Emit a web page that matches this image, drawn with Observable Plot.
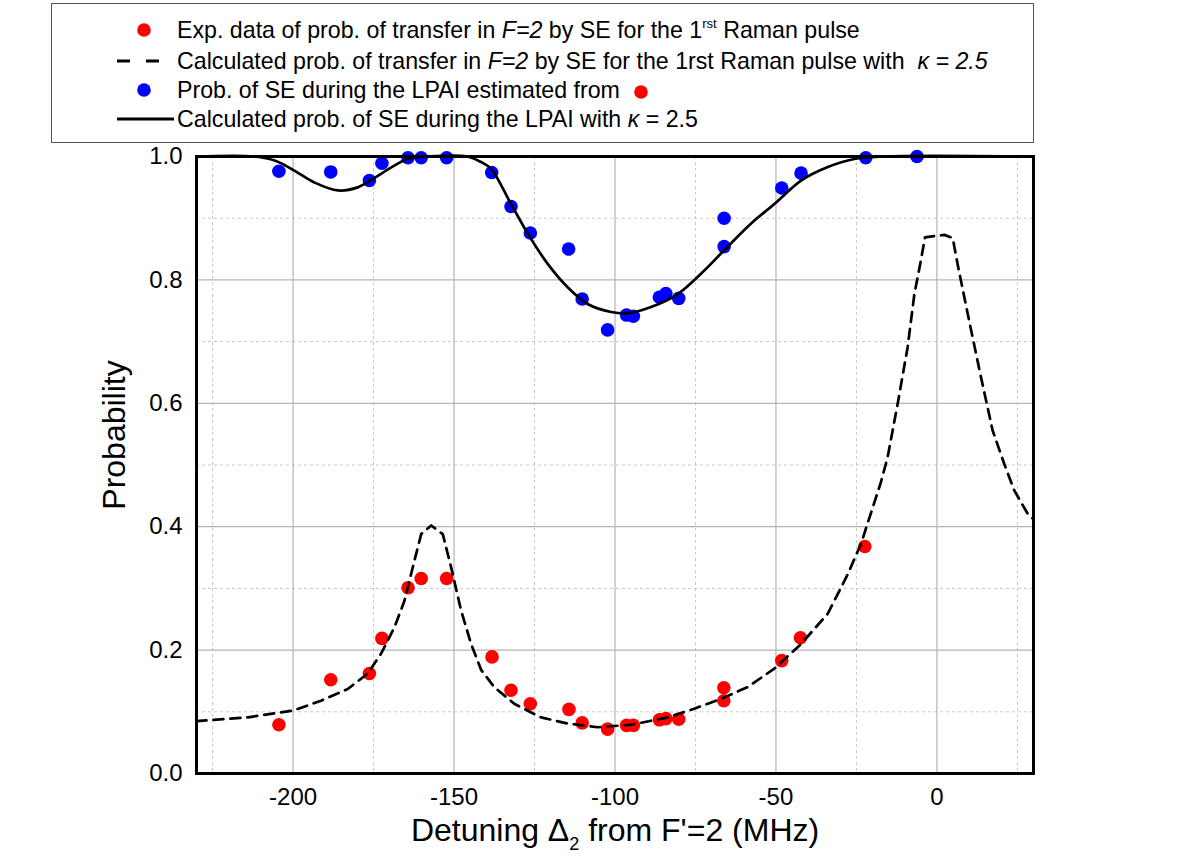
<!DOCTYPE html>
<html>
<head>
<meta charset="utf-8">
<script src="https://cdn.jsdelivr.net/npm/d3@7"></script>
<script src="https://cdn.jsdelivr.net/npm/@observablehq/plot@0.6"></script>
<style>
  html, body { margin: 0; padding: 0; background: #fff; }
  body { width: 1204px; height: 861px; font-family: "Liberation Sans", Arial, sans-serif; color: #000; }
  #legend { position: relative; margin-left: 51px; margin-top: 3px; width: 983px; height: 140px; box-sizing: border-box; border: 1.5px solid #555; }
  .row { position: absolute; left: 0; height: 30px; line-height: 30px; font-size: 23.2px; white-space: nowrap; }
  .row .sym { position: absolute; top: 0; }
  .row .txt { position: absolute; left: 125px; top: 0; }
  sup { font-size: 13px; vertical-align: 0; position: relative; top: -10px; }
  #chart { margin-top: -6px; position: relative; }
  #chart svg { background: transparent !important; }
</style>
</head>
<body>
<div id="legend">
  <div class="row" style="top:11px"><svg class="sym" width="120" height="30"><circle cx="92" cy="15" r="6.8" fill="#ff0000"/></svg><span class="txt">Exp. data of prob. of transfer in <i>F=2</i> by SE for the 1<sup>rst</sup> Raman pulse</span></div>
  <div class="row" style="top:42px"><svg class="sym" width="120" height="30"><line x1="65" x2="78" y1="15" y2="15" stroke="#000" stroke-width="3"/><line x1="94" x2="107" y1="15" y2="15" stroke="#000" stroke-width="3"/></svg><span class="txt">Calculated prob. of transfer in <i>F=2</i> by SE for the 1rst Raman pulse with&nbsp; <i>κ = 2.5</i></span></div>
  <div class="row" style="top:71px"><svg class="sym" width="120" height="30"><circle cx="92" cy="15" r="6.8" fill="#0000ff"/></svg><span class="txt">Prob. of SE during the LPAI estimated from &nbsp;<svg width="16" height="16" style="vertical-align:-2px"><circle cx="8" cy="8" r="6.8" fill="#ff0000"/></svg></span></div>
  <div class="row" style="top:100px"><svg class="sym" width="130" height="30"><line x1="65" x2="122" y1="15" y2="15" stroke="#000" stroke-width="3"/></svg><span class="txt"><i>Calculated</i></span></div>
</div>
<div id="chart"></div>
<script>
// ---- data ----
const expX = [-204.4, -188.3, -176.3, -172.4, -164.3, -160.2, -152.3, -138.2, -132.3, -126.3, -114.3, -110.2, -102.3, -96.4, -94.3, -86.2, -84.2, -80.2, -66.2, -66.2, -48.2, -42.4, -22.4];
const expTransfer = [0.079, 0.152, 0.162, 0.219, 0.301, 0.316, 0.316, 0.189, 0.135, 0.113, 0.104, 0.082, 0.072, 0.078, 0.078, 0.087, 0.089, 0.088, 0.139, 0.118, 0.183, 0.220, 0.368];

const seX = [-204.4, -188.3, -176.3, -172.4, -164.3, -160.2, -152.3, -138.3, -132.3, -126.3, -114.4, -110.2, -102.3, -96.4, -94.3, -86.2, -84.2, -80.2, -66.1, -66.1, -48.2, -42.2, -22.1, -6.2];
const seProb = [0.976, 0.975, 0.961, 0.989, 0.998, 0.998, 0.998, 0.974, 0.919, 0.876, 0.850, 0.769, 0.719, 0.743, 0.741, 0.772, 0.778, 0.770, 0.900, 0.854, 0.949, 0.973, 0.998, 1.0];

const calcTransferX = [-230, -214, -200, -191.3, -183, -176.8, -172.7, -168.5, -165.4, -162.3, -160.2, -157.1, -153.5, -150.9, -147.8, -144.7, -141.6, -137.5, -131.3, -123, -114.7, -105.4, -95, -83.6, -75.4, -67.1, -58.8, -50.5, -42.2, -33.9, -27.7, -23.6, -17.4, -15.3, -12.2, -9.1, -7, -5, -3.7, 2.3, 4.9, 6.4, 10, 13.7, 17.3, 20.9, 24, 28.2, 30];
const calcTransferY = [0.085, 0.091, 0.102, 0.118, 0.137, 0.162, 0.194, 0.237, 0.280, 0.345, 0.388, 0.402, 0.388, 0.334, 0.264, 0.210, 0.168, 0.140, 0.113, 0.091, 0.081, 0.075, 0.079, 0.091, 0.105, 0.121, 0.140, 0.170, 0.210, 0.259, 0.323, 0.372, 0.472, 0.513, 0.599, 0.691, 0.777, 0.831, 0.869, 0.873, 0.868, 0.826, 0.734, 0.642, 0.556, 0.502, 0.459, 0.421, 0.412];

const calcSEX = [-230, -212, -205.5, -199.6, -193.4, -186.1, -179.9, -174.8, -169.6, -164.4, -158, -146, -141.6, -138.5, -132.3, -127.1, -120.9, -114.7, -108.5, -101.2, -96, -88.8, -80.5, -73.3, -66.1, -57.8, -50.5, -42.2, -33.9, -25.7, -17, 30];
const calcSEY = [1, 1, 0.993, 0.977, 0.958, 0.945, 0.950, 0.965, 0.982, 0.996, 1, 1, 0.991, 0.980, 0.923, 0.875, 0.826, 0.788, 0.761, 0.748, 0.746, 0.756, 0.777, 0.810, 0.848, 0.891, 0.923, 0.961, 0.983, 0.996, 1, 1];

const xMajor = [-200, -150, -100, -50, 0];
const xMinor = [-225, -175, -125, -75, -25, 25];
const yMajor = [0, 0.2, 0.4, 0.6, 0.8, 1.0];
const yMinor = [0.1, 0.3, 0.5, 0.7, 0.9];

const xTitle = "Detuning Δ2 from F'=2 (MHz)";
const yTitle = "Probability";

// fill the last legend row
document.querySelectorAll("#legend .row .txt")[3].innerHTML = "Calculated prob. of SE during the LPAI with <i>κ</i> = 2.5";

const expData = expX.map((x, i) => ({x, y: expTransfer[i]}));
const seData = seX.map((x, i) => ({x, y: seProb[i]}));
const transferLine = calcTransferX.map((x, i) => ({x, y: calcTransferY[i]}));
const seLine = calcSEX.map((x, i) => ({x, y: calcSEY[i]}));

// svg starts at page y = 137
const chart = Plot.plot({
  width: 1204,
  height: 724,
  marginTop: 19,
  marginRight: 171,
  marginBottom: 88,
  marginLeft: 196,
  style: {fontFamily: "'Liberation Sans', Arial, sans-serif", fontSize: "24px", color: "#000", background: "transparent", overflow: "visible"},
  x: {domain: [-230, 30], label: null},
  y: {domain: [0, 1], label: null},
  marks: [
    Plot.ruleX(xMinor, {stroke: "#c8c8c8", strokeWidth: 1, strokeDasharray: "3,3"}),
    Plot.ruleY(yMinor, {stroke: "#c8c8c8", strokeWidth: 1, strokeDasharray: "3,3"}),
    Plot.ruleX(xMajor, {stroke: "#b4b4b4", strokeWidth: 1.2}),
    Plot.ruleY(yMajor, {stroke: "#b4b4b4", strokeWidth: 1.2}),
    Plot.dot(seData, {x: "x", y: "y", r: 6.8, fill: "#0000ff", stroke: "none"}),
    Plot.dot(expData, {x: "x", y: "y", r: 6.8, fill: "#ff0000", stroke: "none"}),
    Plot.line(transferLine, {x: "x", y: "y", stroke: "#000", strokeWidth: 2.7, strokeDasharray: "10,7", curve: "linear"}),
    Plot.line(seLine, {x: "x", y: "y", stroke: "#000", strokeWidth: 2.7, curve: "catmull-rom"}),
    Plot.frame({stroke: "#000", strokeWidth: 3}),
    Plot.axisX({ticks: xMajor, tickSize: 0, tickPadding: 14, tickFormat: d => String(d), fontSize: 24, label: null}),
    Plot.axisY({ticks: yMajor, tickSize: 0, tickPadding: 14, tickFormat: d3.format(".1f"), fontSize: 24, label: null}),
    Plot.text([yTitle], {frameAnchor: "left", textAnchor: "middle", rotate: -90, dx: -82, dy: -30, fontSize: 32, fill: "#000", className: "ytitle"}),
    Plot.text([xTitle], {frameAnchor: "bottom", dy: 67, fontSize: 32, fill: "#000", className: "xtitle"})
  ]
});
document.getElementById("chart").appendChild(chart);

// subscript in the x title
const xt = chart.querySelector(".xtitle text");
if (xt) {
  xt.textContent = "";
  const a = document.createElementNS("http://www.w3.org/2000/svg", "tspan");
  a.textContent = "Detuning Δ";
  const b = document.createElementNS("http://www.w3.org/2000/svg", "tspan");
  b.textContent = "2";
  b.setAttribute("font-size", "18");
  b.setAttribute("dy", "9");
  const c = document.createElementNS("http://www.w3.org/2000/svg", "tspan");
  c.textContent = " from F'=2 (MHz)";
  c.setAttribute("dy", "-9");
  xt.append(a, b, c);
}
</script>
</body>
</html>
